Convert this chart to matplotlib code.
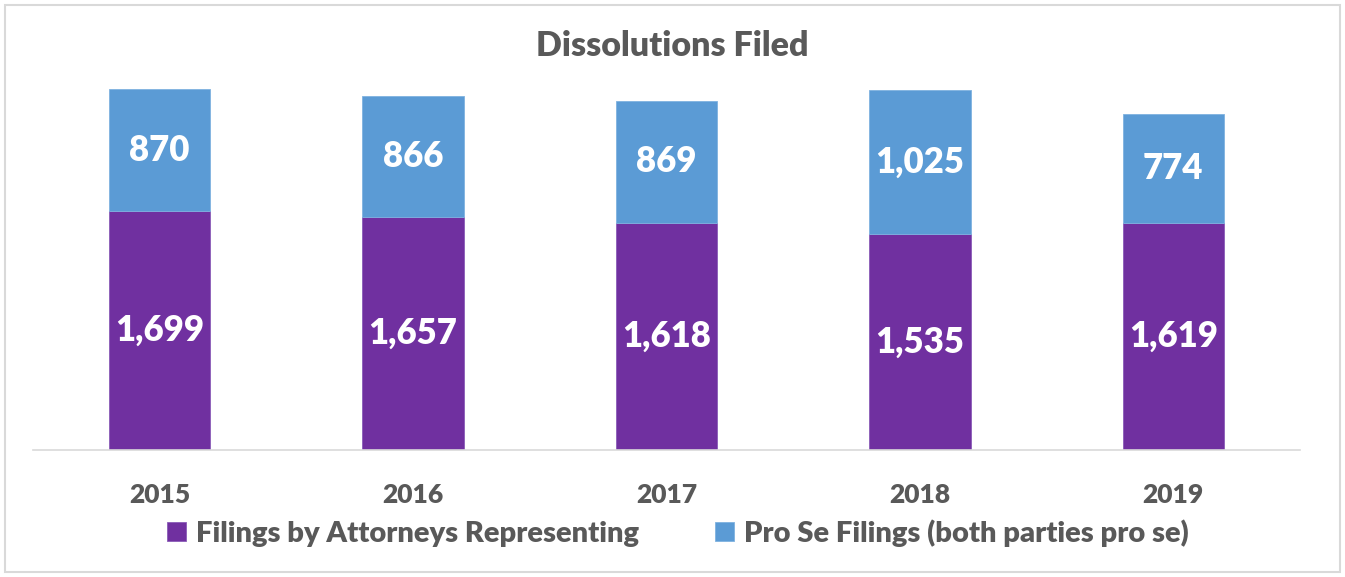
import matplotlib
matplotlib.use("Agg")
import matplotlib.pyplot as plt
from matplotlib.patches import Rectangle

years = ["2015", "2016", "2017", "2018", "2019"]
attorney = [1699, 1657, 1618, 1535, 1619]
pro_se = [870, 866, 869, 1025, 774]
series_names = ["Filings by Attorneys Representing", "Pro Se Filings (both parties pro se)"]

PURPLE = "#7030A0"
BLUE = "#5B9BD5"
GRAY = "#595959"

plt.rcParams['font.family'] = ['Lato', 'DejaVu Sans']

W, H = 1345, 577
fig = plt.figure(figsize=(W / 100, H / 100), dpi=100)
ax = fig.add_axes([33 / W, (H - 450) / H, (1300 - 33) / W, 421.5 / H])

x = list(range(len(years)))
b1 = ax.bar(x, attorney, width=0.4, color=PURPLE, edgecolor="#8a5cb8", linewidth=0.6, label=series_names[0])
b2 = ax.bar(x, pro_se, width=0.4, bottom=attorney, color=BLUE, edgecolor="#7fb2e0", linewidth=0.6, label=series_names[1])

for xi, a, p in zip(x, attorney, pro_se):
    ax.text(xi, a / 2, f"{a:,}", ha="center", va="center", color="white",
            fontsize=25, fontweight="heavy")
    ax.text(xi, a + p / 2, f"{p:,}", ha="center", va="center", color="white",
            fontsize=25, fontweight="heavy")

ax.set_xlim(-0.5, len(years) - 0.5)
ax.set_ylim(0, 3000)
ax.set_yticks([])
ax.set_xticks(x)
ax.set_xticklabels(years, fontsize=19, fontweight="heavy", color=GRAY)
ax.tick_params(axis="x", length=0, pad=24)
for s in ["left", "right", "top"]:
    ax.spines[s].set_visible(False)
ax.spines["bottom"].set_color("#d9d9d9")
ax.spines["bottom"].set_linewidth(1.2)

fig.text(672 / W, 1 - 46 / H, "Dissolutions Filed", ha="center", va="center",
         fontsize=24.5, fontweight="heavy", color=GRAY)

leg = fig.legend(handles=[b1, b2], labels=series_names, loc="center",
                 bbox_to_anchor=(678 / W, 1 - 533 / H), ncol=2, frameon=False,
                 prop={"size": 21, "weight": "heavy"}, handlelength=0.65, handleheight=0.65,
                 handletextpad=0.35, columnspacing=2.6)
for t in leg.get_texts():
    t.set_color(GRAY)

fig.patches.append(Rectangle((5 / W, 5 / H), (W - 10) / W, (H - 10) / H,
                             transform=fig.transFigure, fill=False,
                             edgecolor="#d9d9d9", linewidth=1.5))

fig.savefig("out.png", dpi=100)
